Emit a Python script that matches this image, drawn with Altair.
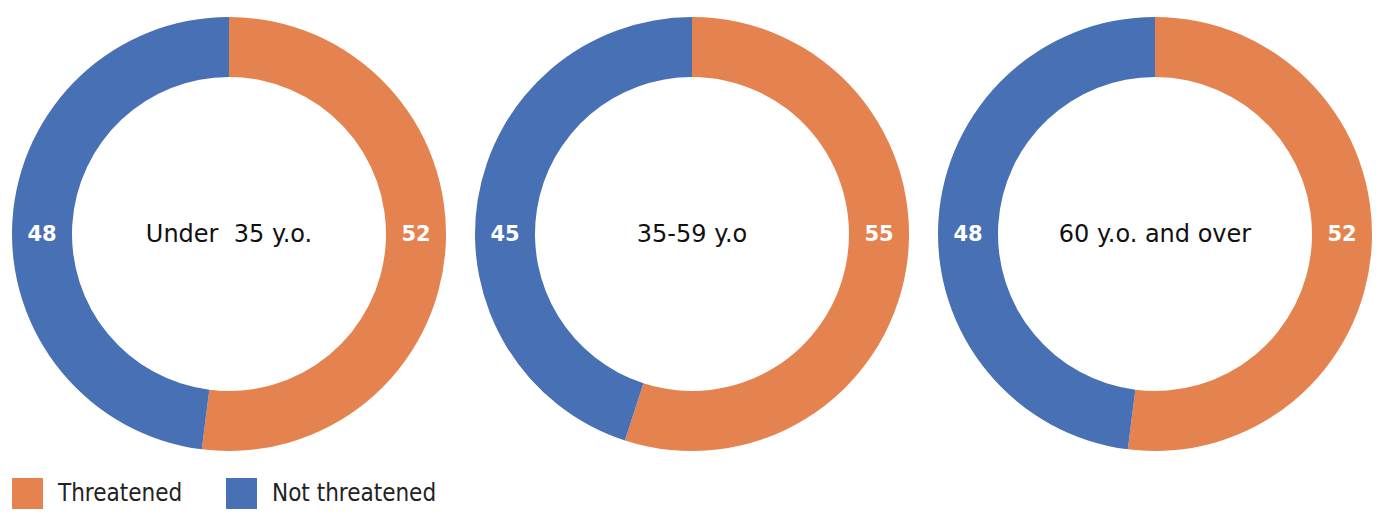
import altair as alt
import pandas as pd

# values
groups = ["Under\u00a0 35 y.o.", "35-59 y.o", "60 y.o. and over"]
categories = ["Threatened", "Not threatened"]
threatened = [52, 55, 52]
not_threatened = [48, 45, 48]
colors = ["#E4834F", "#4870B4"]

rows = []
for g, t, n in zip(groups, threatened, not_threatened):
    rows.append({"group": g, "category": categories[0], "value": t, "rank": 0})
    rows.append({"group": g, "category": categories[1], "value": n, "rank": 1})
df = pd.DataFrame(rows)

SIZE = 434
R_OUT = 217
R_IN = 157
MID = (R_OUT + R_IN) / 2


def make_donut(group):
    base = alt.Chart(df[df["group"] == group])

    ring = base.mark_arc(innerRadius=R_IN, outerRadius=R_OUT).encode(
        theta=alt.Theta("value:Q", stack=True),
        order=alt.Order("rank:Q"),
        color=alt.Color(
            "category:N",
            scale=alt.Scale(domain=categories, range=colors),
            legend=alt.Legend(
                orient="none", legendX=0, legendY=461, direction="horizontal",
                title=None, symbolType="square", symbolSize=961,
                symbolStrokeWidth=0, symbolOpacity=1,
                labelFont="DejaVu Sans Condensed", labelFontSize=24,
                labelColor="#222222", labelOffset=15, labelLimit=300,
                columnPadding=43,
            ),
        ),
    )

    right_lbl = base.transform_filter(
        alt.datum.category == categories[0]
    ).mark_text(font="DejaVu Sans", fontWeight="bold", fontSize=21,
                color="white", baseline="middle", align="center").encode(
        x=alt.value(SIZE / 2 + MID), y=alt.value(SIZE / 2 + 1),
        text="value:Q",
    )

    left_lbl = base.transform_filter(
        alt.datum.category == categories[1]
    ).mark_text(font="DejaVu Sans", fontWeight="bold", fontSize=21,
                color="white", baseline="middle", align="center").encode(
        x=alt.value(SIZE / 2 - MID), y=alt.value(SIZE / 2 + 1),
        text="value:Q",
    )

    center = base.transform_filter(
        alt.datum.category == categories[0]
    ).mark_text(font="DejaVu Sans", fontSize=24, color="#111111",
                baseline="middle", align="center").encode(
        x=alt.value(SIZE / 2), y=alt.value(SIZE / 2 + 1),
        text="group:N",
    )

    return alt.layer(ring, right_lbl, left_lbl, center).properties(
        width=SIZE, height=SIZE
    )


chart = alt.hconcat(*[make_donut(g) for g in groups], spacing=29).properties(
    padding={"left": 4, "top": 9, "right": 5, "bottom": 0}
).configure_view(
    strokeWidth=0
)

chart.save("out.html", embed_options={"renderer": "svg", "actions": False})
